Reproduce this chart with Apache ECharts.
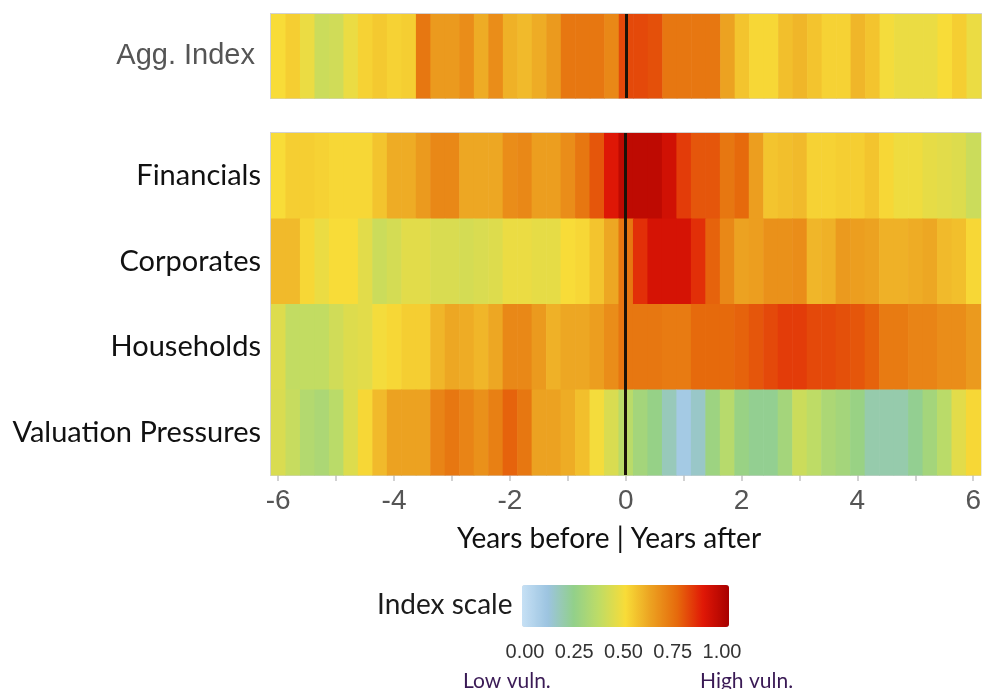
<!DOCTYPE html>
<html>
<head>
<meta charset="utf-8">
<script src="https://cdn.jsdelivr.net/npm/echarts@6/dist/echarts.min.js"></script>
<style>
html,body{margin:0;padding:0;background:#fff;}
#chart{width:984px;height:689px;}
</style>
</head>
<body>
<div id="chart"></div>
<script>
// Years relative to event (quarterly)
var years = [-6,-5.75,-5.5,-5.25,-5,-4.75,-4.5,-4.25,-4,-3.75,-3.5,-3.25,-3,-2.75,-2.5,-2.25,-2,-1.75,-1.5,-1.25,-1,-0.75,-0.5,-0.25,0,
             0.25,0.5,0.75,1,1.25,1.5,1.75,2,2.25,2.5,2.75,3,3.25,3.5,3.75,4,4.25,4.5,4.75,5,5.25,5.5,5.75,6];

var aggLabel = ['Agg. Index'];
var rowLabels = ['Financials','Corporates','Households','Valuation Pressures'];

var aggIndex = [0.50,0.53,0.47,0.40,0.41,0.47,0.52,0.54,0.52,0.53, 0.72,0.64,0.64,0.67,0.60,0.67,0.59,0.57,0.60,0.64, 0.72,0.72,0.72,0.68, 0.80,
                0.80,0.79,0.72,0.72,0.72,0.72,0.62,0.55,0.51,0.51, 0.56,0.58,0.55,0.52,0.52,0.58,0.55,0.49,0.47,0.47, 0.47,0.50,0.53,0.47];
var financials = [0.50,0.53,0.53,0.52,0.51,0.51,0.51,0.55,0.60,0.60, 0.64,0.68,0.68,0.61,0.61,0.61,0.67,0.68,0.63,0.63, 0.67,0.72,0.78,0.88, 0.95,
                  0.95,0.95,0.91,0.82,0.78,0.78,0.72,0.75,0.63,0.55, 0.56,0.57,0.52,0.52,0.53,0.53,0.55,0.51,0.48,0.48, 0.46,0.45,0.44,0.40];
var corporates = [0.57,0.57,0.51,0.47,0.50,0.50,0.45,0.40,0.42,0.45, 0.45,0.43,0.43,0.42,0.43,0.44,0.47,0.47,0.46,0.46, 0.50,0.51,0.55,0.61, 0.72,
                  0.84,0.90,0.90,0.90,0.84,0.76,0.68,0.62,0.63,0.66, 0.66,0.67,0.58,0.59,0.64,0.63,0.62,0.59,0.59,0.60, 0.61,0.57,0.56,0.51];
var households = [0.44,0.38,0.38,0.38,0.41,0.44,0.45,0.49,0.51,0.53, 0.53,0.58,0.61,0.60,0.58,0.61,0.68,0.68,0.64,0.59, 0.61,0.61,0.63,0.67, 0.72,
                  0.72,0.72,0.71,0.71,0.75,0.75,0.75,0.76,0.78,0.80, 0.82,0.82,0.80,0.80,0.79,0.78,0.76,0.71,0.71,0.69, 0.69,0.67,0.67,0.64];
var valuation = [0.43,0.39,0.34,0.32,0.36,0.44,0.51,0.57,0.62,0.62, 0.62,0.69,0.72,0.69,0.66,0.70,0.76,0.72,0.62,0.62, 0.60,0.56,0.49,0.43, 0.36,
                 0.30,0.26,0.18,0.10,0.16,0.28,0.35,0.27,0.24,0.24, 0.30,0.40,0.37,0.32,0.30,0.27,0.20,0.20,0.20,0.24, 0.30,0.36,0.45,0.51];

var xTickValues = [-6,-5,-4,-3,-2,-1,0,1,2,3,4,5,6];
var xLabelValues = [-6,-4,-2,0,2,4,6];
var scaleTicks = [0, 0.25, 0.5, 0.75, 1];
var scaleColors = ['#c6e0f5','#9cc4e0','#92d08a','#c0dc64','#f8dc38','#eca020','#e66a0c','#e01806','#a80000'];

var halfStep = 0.125;

function buildData(rows) {
  var out = [];
  rows.forEach(function (row, r) {
    row.forEach(function (v, i) { out.push([years[i], r, v]); });
  });
  return out;
}

function renderItem(params, api) {
  var x = api.value(0), y = api.value(1);
  var p0 = api.coord([x - halfStep, y]);
  var p1 = api.coord([x + halfStep, y]);
  var h = api.size([0, 1])[1];
  return {
    type: 'rect',
    shape: { x: p0[0], y: p0[1] - h / 2, width: p1[0] - p0[0] + 0.6, height: h + 0.6 },
    style: { fill: api.visual('color') }
  };
}

var zeroLine = {
  silent: true, symbol: 'none', animation: false,
  label: { show: false },
  lineStyle: { color: '#1a1208', width: 3, type: 'solid', opacity: 1 },
  emphasis: { disabled: true },
  data: [{ xAxis: 0 }]
};

var chart = echarts.init(document.getElementById('chart'), null, { renderer: 'canvas' });

chart.setOption({
  animation: false,
  backgroundColor: '#ffffff',
  grid: [
    { left: 271, top: 14, width: 710, height: 84, show: true, borderColor: '#d2d2d2', borderWidth: 2, backgroundColor: 'transparent' },
    { left: 271, top: 133, width: 710, height: 342, show: true, borderColor: '#d2d2d2', borderWidth: 2, backgroundColor: 'transparent' }
  ],
  xAxis: [
    { gridIndex: 0, type: 'value', min: -6 - halfStep, max: 6 + halfStep, show: false },
    { gridIndex: 1, type: 'value', min: -6 - halfStep, max: 6 + halfStep,
      splitLine: { show: false },
      axisLine: { show: false },
      axisTick: { show: true, customValues: xTickValues, length: 6, lineStyle: { color: '#c4c4c4', width: 1.5 } },
      axisLabel: { customValues: xLabelValues, fontFamily: 'Liberation Sans', fontSize: 28, color: '#555555', margin: 12 }
    }
  ],
  yAxis: [
    { gridIndex: 0, type: 'category', data: aggLabel,
      axisLine: { show: false }, axisTick: { show: false }, splitLine: { show: false },
      axisLabel: { fontFamily: 'Liberation Sans', fontSize: 29, color: '#555555', margin: 16 } },
    { gridIndex: 1, type: 'category', data: rowLabels, inverse: true,
      axisLine: { show: false }, axisTick: { show: false }, splitLine: { show: false },
      axisLabel: { fontFamily: 'Lato', fontSize: 29, color: '#111111', margin: 10 } }
  ],
  visualMap: {
    type: 'continuous', min: 0, max: 1, dimension: 2, seriesIndex: [0, 1],
    orient: 'horizontal', left: 522, top: 585, padding: 0,
    itemWidth: 42, itemHeight: 207,
    calculable: false, hoverLink: false, text: null, showLabel: false,
    inRange: { color: scaleColors }
  },
  series: [
    { type: 'custom', xAxisIndex: 0, yAxisIndex: 0, renderItem: renderItem,
      encode: { x: 0, y: 1 }, data: buildData([aggIndex]), markLine: zeroLine, z: 2 },
    { type: 'custom', xAxisIndex: 1, yAxisIndex: 1, renderItem: renderItem,
      encode: { x: 0, y: 1 }, data: buildData([financials, corporates, households, valuation]), markLine: zeroLine, z: 2 }
  ],
  graphic: [
    { type: 'text', left: 457, top: 525, style: { text: 'Years before | Years after', font: '28px Lato', fill: '#111111' } },
    { type: 'text', left: 377, top: 591, style: { text: 'Index scale', font: '28px Lato', fill: '#1c1c1c' } },
    { type: 'group', children: scaleTicks.map(function (v) {
        return { type: 'text', x: 525 + 197 * v, y: 652,
          style: { text: v.toFixed(2), font: '20px "Liberation Sans"', fill: '#333333', align: 'center', verticalAlign: 'middle' } };
      }) },
    { type: 'text', left: 463, top: 671, style: { text: 'Low vuln.', font: '21px Lato', fill: '#3a1a55' } },
    { type: 'text', left: 700, top: 671, style: { text: 'High vuln.', font: '21px Lato', fill: '#3a1a55' } }
  ]
});
</script>
</body>
</html>
